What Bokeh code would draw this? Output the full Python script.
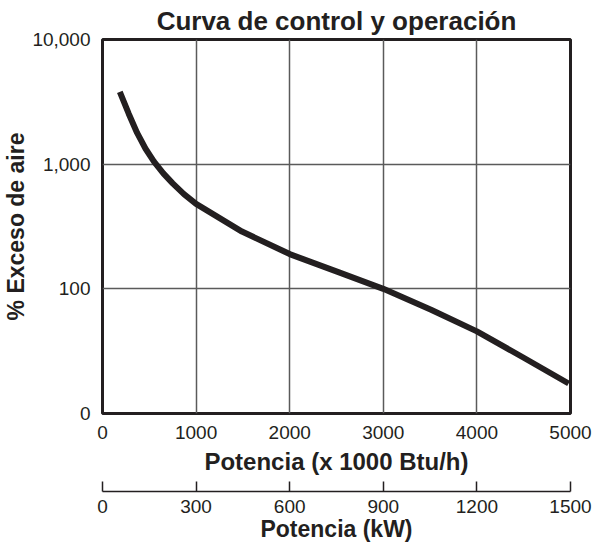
from bokeh.plotting import figure
from bokeh.models import Range1d, LinearAxis, FixedTicker
from bokeh.embed import file_html
from bokeh.resources import INLINE

# ---- data ----
power_kbtu = [185, 280, 370, 460, 550, 650, 750, 870, 1000, 1490, 2000, 2520, 3000, 3510, 4000, 4500, 4980]
excess_air = [3800, 2540, 1780, 1330, 1050, 844, 702, 575, 480, 288, 190, 136, 100, 68, 45.6, 28, 17.4]

x_ticks = [0, 1000, 2000, 3000, 4000, 5000]
y_ticks = [10, 100, 1000, 10000]
y_tick_labels = {10: "0", 100: "100", 1000: "1,000", 10000: "10,000"}
kw_ticks = [0, 300, 600, 900, 1200, 1500]

INK = "#231f20"
GRID = "#5a5a5a"
FONT = "Liberation Sans"

p = figure(frame_width=468, frame_height=374, y_axis_type="log",
           x_range=Range1d(0, 5000), y_range=Range1d(10, 10000),
           output_backend="svg", toolbar_location=None,
           title="Curva de control y operación",
           min_border_left=0, min_border_right=30, min_border_top=0, min_border_bottom=0)

p.title.align = "center"
p.title.text_font = FONT
p.title.text_font_size = "26px"
p.title.text_font_style = "bold"
p.title.text_color = INK
p.title.standoff = 7

p.outline_line_color = INK
p.outline_line_width = 3
p.outline_line_alpha = 1

p.xgrid.ticker = FixedTicker(ticks=x_ticks)
p.ygrid.ticker = FixedTicker(ticks=y_ticks)
for g in (p.xgrid, p.ygrid):
    g.grid_line_color = GRID
    g.grid_line_width = 1.5
    g.grid_line_alpha = 1

xa = p.below[0]
xa.ticker = FixedTicker(ticks=x_ticks)
xa.axis_line_color = None
xa.major_tick_line_color = None
xa.minor_tick_line_color = None
xa.major_tick_out = 0
xa.major_tick_in = 0
xa.major_label_standoff = 12
xa.major_label_text_font = FONT
xa.major_label_text_font_size = "19px"
xa.major_label_text_color = INK
xa.axis_label = "Potencia (x 1000 Btu/h)"
xa.axis_label_text_font = FONT
xa.axis_label_text_font_size = "24px"
xa.axis_label_text_font_style = "bold"
xa.axis_label_text_color = INK
xa.axis_label_standoff = 6

ya = p.left[0]
ya.ticker = FixedTicker(ticks=y_ticks)
ya.major_label_overrides = y_tick_labels
ya.axis_line_color = None
ya.major_tick_line_color = None
ya.minor_tick_line_color = None
ya.major_tick_out = 0
ya.major_tick_in = 0
ya.major_label_standoff = 12
ya.major_label_text_font = FONT
ya.major_label_text_font_size = "19px"
ya.major_label_text_color = INK
ya.axis_label = "% Exceso de aire"
ya.axis_label_text_font = FONT
ya.axis_label_text_font_size = "23px"
ya.axis_label_text_font_style = "bold"
ya.axis_label_text_color = INK
ya.axis_label_standoff = 0

p.extra_x_ranges = {"kw": Range1d(0, 1500)}

# blank axis used only as vertical padding between the two scales
spacer = LinearAxis(x_range_name="kw", ticker=FixedTicker(ticks=[750]),
                    major_label_overrides={750: ""},
                    axis_line_color=None, major_tick_line_color="white",
                    minor_tick_line_color=None, major_tick_out=14, major_tick_in=0,
                    major_label_standoff=0)
p.add_layout(spacer, "below")

kw = LinearAxis(x_range_name="kw", ticker=FixedTicker(ticks=kw_ticks))
kw.axis_line_color = INK
kw.axis_line_width = 1.5
kw.major_tick_line_color = INK
kw.major_tick_line_width = 1.5
kw.major_tick_in = 10
kw.major_tick_out = 0
kw.minor_tick_line_color = None
kw.major_label_standoff = 8
kw.major_label_text_font = FONT
kw.major_label_text_font_size = "19px"
kw.major_label_text_color = INK
kw.axis_label = "Potencia (kW)"
kw.axis_label_text_font = FONT
kw.axis_label_text_font_size = "23px"
kw.axis_label_text_font_style = "bold"
kw.axis_label_text_color = INK
kw.axis_label_standoff = 0
p.add_layout(kw, "below")

p.line(power_kbtu, excess_air, line_width=6, line_color=INK, line_join="round")

open("out.html", "w").write(file_html(p, INLINE))
